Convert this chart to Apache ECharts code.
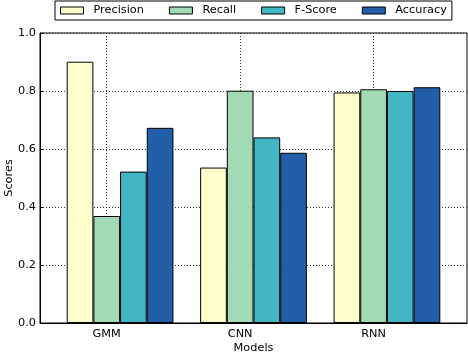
<!DOCTYPE html>
<html lang="en">
<head>
    <meta charset="UTF-8">
    <title>Scores by model</title>
    <script src="https://cdn.jsdelivr.net/npm/echarts@6.0.0/dist/echarts.min.js"></script>
    <style>body { margin: 0; }</style>
</head>
<body>
<div id="main" style="width: 468px;height:354px;"></div>
<script type="text/javascript">
    // data
    const models = ['GMM', 'CNN', 'RNN'];
    const metrics = ['Precision', 'Recall', 'F-Score', 'Accuracy'];
    const precision = [0.901, 0.536, 0.795];
    const recall = [0.369, 0.801, 0.806];
    const fScore = [0.522, 0.640, 0.800];
    const accuracy = [0.673, 0.587, 0.813];
    const yTicks = [0.0, 0.2, 0.4, 0.6, 0.8, 1.0];
    const colors = ['#ffffcc', '#a1dab4', '#41b6c4', '#225ea8'];

    // x range is split in slots of one bar width: an empty slot, four bars, next model ...
    const slotsPerModel = 5;
    const nSlots = models.length * slotsPerModel + 1;
    const slots = [];
    for (let i = 0; i < nSlots; i++) {
        const m = Math.floor(i / slotsPerModel);
        slots.push(i % slotsPerModel === 2 ? models[m] : 'slot' + i);
    }
    const isCenter = (i) => i % slotsPerModel === 2;

    function toSlots(values, k) { // put model values at their slot, others empty
        const out = new Array(nSlots).fill('-');
        values.forEach((v, m) => { out[m * slotsPerModel + 1 + k] = v; });
        return out;
    }

    const allValues = [precision, recall, fScore, accuracy];
    const font = 'DejaVu Sans';
    const fs = 11.3;

    let series = metrics.map((name, k) => ({
        name: name,
        type: 'bar',
        stack: 'all',
        barWidth: '100%',
        data: toSlots(allValues[k], k),
        itemStyle: { color: colors[k], borderColor: '#000', borderWidth: 1 }
    }));

    let options = {
        animation: false,
        textStyle: { fontFamily: font },
        legend: {
            data: metrics,
            left: 55, top: 1,
            padding: [4, 5, 4, 5],
            itemWidth: 23, itemHeight: 7, itemGap: 25,
            icon: 'rect',
            borderColor: '#000', borderWidth: 1,
            itemStyle: { borderColor: '#000', borderWidth: 1 },
            textStyle: { fontFamily: font, fontSize: fs, color: '#000', padding: [0, 0, 0, 5] }
        },
        grid: { left: 40, right: 1, top: 33, bottom: 31, outerBoundsMode: 'none', containLabel: false,
                show: true, borderColor: '#000', borderWidth: 1 },
        xAxis: {
            type: 'category',
            data: slots,
            name: 'Models', nameLocation: 'middle', nameGap: 20, nameMoveOverlap: false,
            nameTextStyle: { fontFamily: font, fontSize: fs, color: '#000' },
            axisLine: { lineStyle: { color: '#000' } },
            axisTick: { inside: true, length: 4, alignWithLabel: true, interval: isCenter, lineStyle: { color: '#000' } },
            axisLabel: { interval: isCenter, margin: 6, fontFamily: font, fontSize: fs, color: '#000' },
            splitLine: { show: true, alignWithLabel: true, interval: isCenter, lineStyle: { color: '#333', type: [1, 2] } }
        },
        yAxis: {
            type: 'value',
            min: yTicks[0], max: yTicks[yTicks.length - 1], interval: 0.2,
            name: 'Scores', nameLocation: 'middle', nameGap: 25, nameMoveOverlap: false,
            nameTextStyle: { fontFamily: font, fontSize: fs, color: '#000' },
            axisLine: { show: true, lineStyle: { color: '#000' } },
            axisTick: { show: true, inside: true, length: 4, lineStyle: { color: '#000' } },
            axisLabel: { margin: 4, fontFamily: font, fontSize: fs, color: '#000', formatter: (v) => v.toFixed(1) },
            splitLine: { show: true, lineStyle: { color: '#333', type: [1, 2] } }
        },
        series: series
    };
    let myChart = echarts.init(document.getElementById('main'));
    myChart.setOption(options);
</script>
</body>
</html>
